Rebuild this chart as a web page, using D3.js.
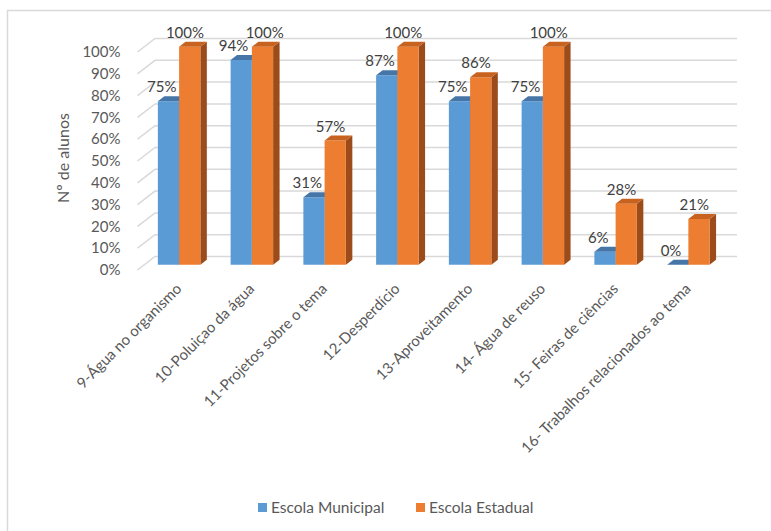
<!DOCTYPE html>
<html>
<head>
<meta charset="utf-8">
<script src="https://cdn.jsdelivr.net/npm/d3@7"></script>
<style>
  html, body { margin: 0; padding: 0; background: #ffffff; }
  svg { display: block; font-family: Lato, "Open Sans", sans-serif; }
</style>
</head>
<body>
<svg id="chart" width="771" height="531"></svg>
<script>
// Survey answers per school (% of students)
const categories = [
  "9-Água no organismo",
  "10-Poluiçao da água",
  "11-Projetos sobre o tema",
  "12-Desperdício",
  "13-Aproveitamento",
  "14- Água de reuso",
  "15- Feiras de ciências",
  "16- Trabalhos relacionados ao tema"
];
const seriesNames = ["Escola Municipal", "Escola Estadual"];
const municipal = [75, 94, 31, 87, 75, 75, 6, 0];
const estadual = [100, 100, 57, 100, 86, 100, 28, 21];
const yTicks = [0, 10, 20, 30, 40, 50, 60, 70, 80, 90, 100];
const yTitle = "Nº de alunos";

const svg = d3.select("#chart");

// Chart frame (only left and top edges fall inside the window)
svg.append("path")
  .attr("d", "M7.5,531 L7.5,10.5 L771,10.5")
  .attr("fill", "none")
  .attr("stroke", "#d9d9d9")
  .attr("stroke-width", 1.5);

// Pseudo-3D projection: front plane + depth offset
const DX = 17.5, DY = 13.5;
const frontLeft = 137.5, frontRight = 719.5;
const y = d3.scaleLinear().domain([0, 100]).range([270, 52]);
const x = d3.scaleBand().domain(categories).range([frontLeft, frontRight]).padding(0);
const proj = (px, v, z) => [px + z * DX, y(v) - z * DY];

const series = [
  { name: seriesNames[0], values: municipal, front: "#5b9bd5", top: "#4676a8", side: "#3e6b96" },
  { name: seriesNames[1], values: estadual, front: "#ed7d31", top: "#c8621f", side: "#9c4b1b" }
];

// Gridlines on side wall and back wall
const grid = svg.append("g");
yTicks.forEach(t => {
  const a = proj(frontLeft, t, 0), b = proj(frontLeft, t, 1), c = proj(frontRight, t, 1);
  grid.append("path")
    .attr("d", `M${a[0]},${a[1]} L${b[0]},${b[1]} L${c[0]},${c[1]}`)
    .attr("fill", "none")
    .attr("stroke", "#d9d9d9")
    .attr("stroke-width", 1.5);
});

// Y axis tick labels
svg.append("g")
  .selectAll("text")
  .data(yTicks)
  .join("text")
  .attr("x", frontLeft - 17)
  .attr("y", d => y(d))
  .attr("dy", "0.35em")
  .attr("text-anchor", "end")
  .attr("font-size", 15)
  .attr("fill", "#595959")
  .text(d => d + "%");

// Y axis title
svg.append("text")
  .attr("transform", "translate(69,158) rotate(-90)")
  .attr("text-anchor", "middle")
  .attr("font-size", 16)
  .attr("fill", "#595959")
  .text(yTitle);

// Bars
const zFront = 0.385, zBack = 0.755;
const bw = x.bandwidth();
const barW = bw * 0.292;
const bars = svg.append("g");
const labels = svg.append("g");
const poly = pts => "M" + pts.map(p => p.join(",")).join("L") + "Z";
categories.forEach((cat, i) => {
  const groupLeft = x(cat) + bw / 2 - barW - 1.5;
  // labels of the pair sit too close vertically -> push them apart sideways
  const labelY = series.map(s => proj(0, s.values[i], zBack)[1] - 4);
  const crowded = Math.abs(labelY[0] - labelY[1]) < 16;
  series.forEach((s, si) => {
    const v = s.values[i];
    const x0 = groupLeft + si * barW, x1 = x0 + barW;
    const fTL = proj(x0, v, zFront), fTR = proj(x1, v, zFront);
    const fBL = proj(x0, 0, zFront), fBR = proj(x1, 0, zFront);
    const bTL = proj(x0, v, zBack), bTR = proj(x1, v, zBack), bBR = proj(x1, 0, zBack);
    // side face
    bars.append("path").attr("d", poly([fTR, bTR, bBR, fBR])).attr("fill", s.side);
    // front face
    if (v > 0) bars.append("path").attr("d", poly([fTL, fTR, fBR, fBL])).attr("fill", s.front);
    // top face
    bars.append("path").attr("d", poly([fTL, fTR, bTR, bTL])).attr("fill", s.top);
    // value label
    const shift = si === 0 ? (crowded ? -1 : 0) : (crowded ? 9 : 2);
    labels.append("text")
      .attr("x", (x0 + x1) / 2 + shift)
      .attr("y", labelY[si])
      .attr("text-anchor", "middle")
      .attr("font-size", 15)
      .attr("fill", "#404040")
      .text(v + "%");
  });
});

// Category labels, rotated
svg.append("g")
  .selectAll("text")
  .data(categories)
  .join("text")
  .attr("transform", d => `translate(${x(d) + bw / 2 + 5},286) rotate(-45)`)
  .attr("text-anchor", "end")
  .attr("dy", "0.35em")
  .attr("font-size", 15)
  .attr("fill", "#595959")
  .text(d => d);

// Legend
const legend = svg.append("g");
const legendX = [258, 416];
series.forEach((s, i) => {
  legend.append("rect")
    .attr("x", legendX[i]).attr("y", 503)
    .attr("width", 9).attr("height", 9)
    .attr("fill", s.front);
  legend.append("text")
    .attr("x", legendX[i] + 13).attr("y", 513)
    .attr("font-size", 15.5)
    .attr("fill", "#595959")
    .text(s.name);
});
</script>
</body>
</html>
